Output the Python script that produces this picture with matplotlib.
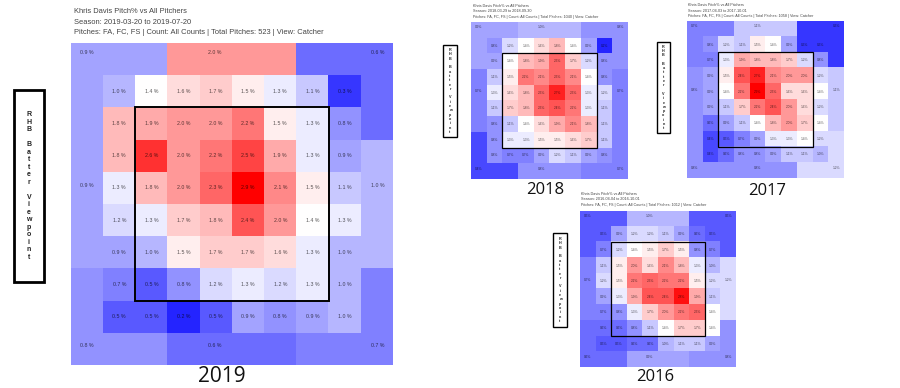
import matplotlib
matplotlib.use("Agg")
import matplotlib.pyplot as plt
import numpy as np
from matplotlib.colors import TwoSlopeNorm
from matplotlib.patches import Rectangle

W, H = 900, 388

# ---------------- data ----------------
# inner 8x8 zone values (rows top->bottom, cols left->right), catcher view
grid_2019 = [
    [1.0, 1.4, 1.6, 1.7, 1.5, 1.3, 1.1, 0.3],
    [1.8, 1.9, 2.0, 2.0, 2.2, 1.5, 1.3, 0.8],
    [1.8, 2.6, 2.0, 2.2, 2.5, 1.9, 1.3, 0.9],
    [1.3, 1.8, 2.0, 2.3, 2.9, 2.1, 1.5, 1.1],
    [1.2, 1.3, 1.7, 1.8, 2.4, 2.0, 1.4, 1.3],
    [0.9, 1.0, 1.5, 1.7, 1.7, 1.6, 1.3, 1.0],
    [0.7, 0.5, 0.8, 1.2, 1.3, 1.2, 1.3, 1.0],
    [0.5, 0.5, 0.2, 0.5, 0.9, 0.8, 0.9, 1.0],
]
# outer zones: TL, TM, TR, ML, MR, BL, BM, BR
outer_2019 = [0.9, 2.0, 0.6, 0.9, 1.0, 0.8, 0.6, 0.7]

grid_2018 = [
    [0.8, 1.2, 1.4, 1.6, 1.8, 1.4, 0.9, 0.2],
    [0.9, 1.4, 1.8, 1.9, 2.3, 1.7, 1.2, 0.8],
    [1.1, 1.5, 2.2, 2.1, 2.3, 2.1, 1.4, 0.8],
    [1.3, 1.6, 1.8, 2.3, 2.7, 2.3, 1.3, 1.2],
    [1.1, 1.7, 1.8, 2.3, 2.4, 2.2, 1.3, 1.1],
    [0.8, 1.1, 1.4, 1.6, 1.9, 2.1, 1.8, 1.1],
    [0.8, 1.3, 1.3, 1.5, 1.5, 1.6, 1.7, 1.1],
    [0.8, 0.7, 0.7, 0.9, 1.2, 1.1, 0.9, 0.8],
]
outer_2018 = [0.9, 1.0, 0.8, 0.7, 0.7, 0.4, 0.8, 0.7]

grid_2017 = [
    [0.8, 1.2, 1.1, 1.5, 1.4, 0.9, 0.3, 0.3],
    [0.7, 1.3, 1.9, 1.8, 1.8, 1.7, 1.2, 0.8],
    [0.9, 1.5, 2.4, 2.7, 2.1, 2.0, 2.0, 1.2],
    [0.9, 1.4, 2.2, 2.9, 2.3, 1.6, 1.6, 1.4],
    [0.9, 1.1, 1.7, 2.2, 2.4, 2.0, 1.6, 1.2],
    [0.6, 0.9, 1.1, 1.4, 1.8, 2.0, 1.7, 1.4],
    [0.4, 0.5, 0.7, 0.9, 1.3, 1.3, 1.4, 1.2],
    [0.4, 0.6, 0.8, 0.8, 0.9, 1.1, 1.1, 1.0],
]
outer_2017 = [0.7, 1.1, 0.3, 0.8, 1.1, 0.8, 0.8, 1.2]

grid_2016 = [
    [0.5, 0.9, 1.2, 1.2, 1.1, 0.9, 0.6, 0.5],
    [0.7, 1.2, 1.4, 1.5, 1.7, 1.5, 0.8, 0.7],
    [1.1, 1.5, 2.0, 1.6, 2.1, 1.8, 1.3, 1.0],
    [1.2, 1.5, 2.2, 2.3, 2.2, 2.2, 1.5, 1.2],
    [0.9, 1.3, 1.9, 2.4, 2.4, 2.8, 1.9, 1.1],
    [0.7, 0.8, 1.3, 1.7, 2.0, 2.2, 2.3, 1.4],
    [0.6, 0.6, 0.8, 1.1, 1.4, 1.7, 1.7, 1.4],
    [0.5, 0.5, 0.6, 0.6, 1.0, 1.1, 1.1, 0.9],
]
outer_2016 = [0.5, 1.0, 0.5, 0.7, 1.2, 0.6, 0.9, 0.8]

titles_2019 = ["Khris Davis Pitch% vs All Pitchers",
               "Season: 2019-03-20 to 2019-07-20",
               "Pitches: FA, FC, FS | Count: All Counts | Total Pitches: 523 | View: Catcher"]
titles_2018 = ["Khris Davis Pitch% vs All Pitchers",
               "Season: 2018-03-29 to 2018-09-30",
               "Pitches: FA, FC, FS | Count: All Counts | Total Pitches: 1040 | View: Catcher"]
titles_2017 = ["Khris Davis Pitch% vs All Pitchers",
               "Season: 2017-04-03 to 2017-10-01",
               "Pitches: FA, FC, FS | Count: All Counts | Total Pitches: 1058 | View: Catcher"]
titles_2016 = ["Khris Davis Pitch% vs All Pitchers",
               "Season: 2016-04-04 to 2016-10-01",
               "Pitches: FA, FC, FS | Count: All Counts | Total Pitches: 1012 | View: Catcher"]
years = ["2019", "2018", "2017", "2016"]
viewpoint = "RHB Batter Viewpoint"

# ---------------- drawing ----------------
cmap = plt.get_cmap("bwr")
norm = TwoSlopeNorm(vmin=0.0, vcenter=1.4, vmax=2.9)


def build(inner, outer):
    M = np.zeros((10, 10))
    TL, TM, TR, ML, MR, BL, BM, BR = outer
    M[0, 0:3] = TL; M[1:3, 0] = TL
    M[0, 3:7] = TM
    M[0, 7:10] = TR; M[1:3, 9] = TR
    M[3:7, 0] = ML
    M[3:7, 9] = MR
    M[7:9, 0] = BL; M[9, 0:3] = BL
    M[9, 3:7] = BM
    M[7:9, 9] = BR; M[9, 7:10] = BR
    M[1:9, 1:9] = np.array(inner)
    return M


fig = plt.figure(figsize=(W / 100, H / 100), dpi=100)
bg = fig.add_axes([0, 0, 1, 1])
bg.set_xlim(0, W)
bg.set_ylim(H, 0)
bg.axis("off")

FONT = ["Liberation Sans", "DejaVu Sans"]


def panel(x0, y0, size, inner, outer, fs, fmt, lw):
    ax = fig.add_axes([x0 / W, 1 - (y0 + size) / H, size / W, size / H])
    M = build(inner, outer)
    ax.imshow(M, cmap=cmap, norm=norm, extent=(0, 10, 10, 0),
              interpolation="nearest", aspect="auto")
    ax.set_xlim(0, 10)
    ax.set_ylim(10, 0)
    ax.axis("off")
    for i in range(8):
        for j in range(8):
            ax.text(j + 1.5, i + 1.5, fmt.format(inner[i][j]), ha="center",
                    va="center", fontsize=fs, color="black", alpha=0.65,
                    family=FONT)
    xs = [0.5, 4.47, 9.53]
    ys = [0.31, 4.41, 9.38]
    pos = [(xs[0], ys[0]), (xs[1], ys[0]), (xs[2], ys[0]),
           (xs[0], ys[1]), (xs[2], ys[1]),
           (xs[0], ys[2]), (xs[1], ys[2]), (xs[2], ys[2])]
    for (px, py), v in zip(pos, outer):
        ax.text(px, py, fmt.format(v), ha="center", va="center", fontsize=fs,
                color="black", alpha=0.65, family=FONT)
    ax.add_patch(Rectangle((2, 2), 6, 6, fill=False, ec="black", lw=lw,
                           zorder=5))
    return ax


def titles(x, ys, lines, fs):
    for y, t in zip(ys, lines):
        bg.text(x, y, t, ha="left", va="center", fontsize=fs, color="#444444",
                family=FONT)


def rhb(x0, y0, x1, y1, fs, lw):
    bg.add_patch(Rectangle((x0, y0), x1 - x0, y1 - y0, fill=False,
                           ec="black", lw=lw))
    bg.text((x0 + x1) / 2, (y0 + y1) / 2, "\n".join(viewpoint), ha="center",
            va="center", fontsize=fs, fontweight="bold", linespacing=1.1,
            color="#222222", family=FONT)


# main 2019
panel(71, 43, 322, grid_2019, outer_2019, 3.8, "{:.1f} %", 1.4)
titles(74, [11.5, 22, 32.5], titles_2019, 5.4)
rhb(14, 90, 44, 282, 5.0, 2.0)
bg.text(222, 376, years[0], ha="center", va="center", fontsize=15,
        family=["Open Sans", "DejaVu Sans"], color="#111111")

# 2018
panel(471, 22, 157, grid_2018, outer_2018, 2.3, "{:.1f}%", 0.9)
titles(473, [6, 11.5, 17], titles_2018, 2.7)
rhb(443, 45, 457, 137, 2.7, 1.0)
bg.text(545, 190, years[1], ha="center", va="center", fontsize=12,
        family=["Open Sans", "DejaVu Sans"], color="#111111")

# 2017
panel(687, 21, 157, grid_2017, outer_2017, 2.3, "{:.1f}%", 0.9)
titles(688, [5, 10.5, 16], titles_2017, 2.7)
rhb(657, 42, 670, 133, 2.7, 1.0)
bg.text(767, 191, years[2], ha="center", va="center", fontsize=12,
        family=["Open Sans", "DejaVu Sans"], color="#111111")

# 2016
panel(580, 211, 156, grid_2016, outer_2016, 2.3, "{:.1f}%", 0.9)
titles(581, [194, 199.5, 205], titles_2016, 2.7)
rhb(553, 233, 567, 327, 2.7, 1.0)
bg.text(655, 377, years[3], ha="center", va="center", fontsize=12,
        family=["Open Sans", "DejaVu Sans"], color="#111111")

fig.savefig("out.png", dpi=100)
